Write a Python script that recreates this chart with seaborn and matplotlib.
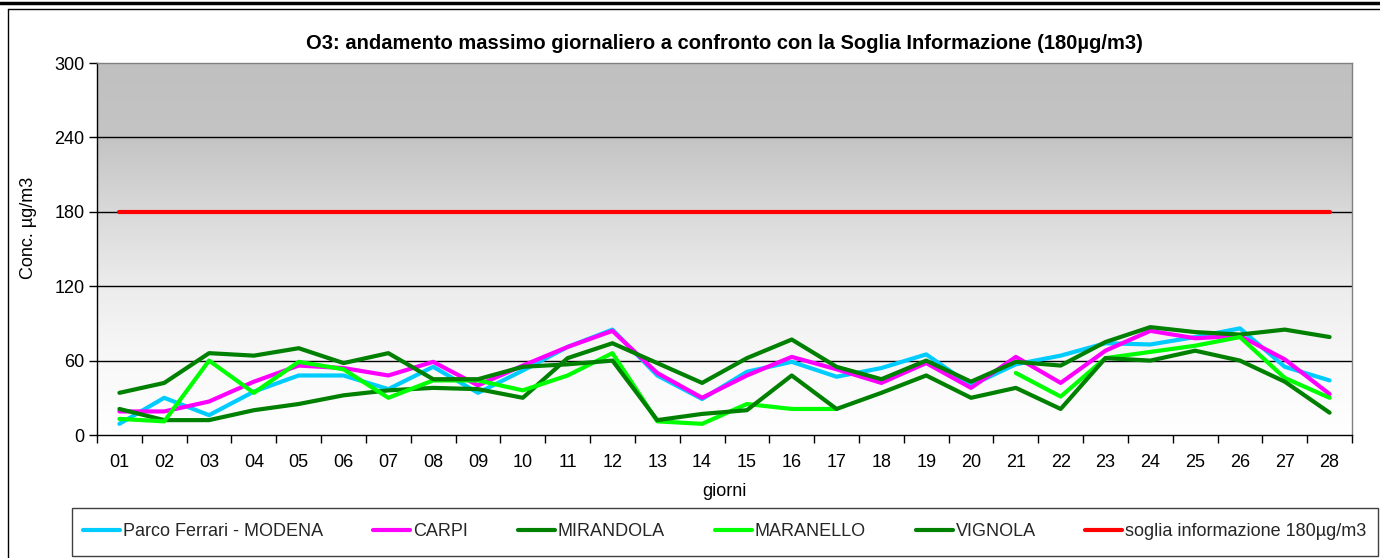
import numpy as np
import pandas as pd
import matplotlib
matplotlib.use("Agg")
import matplotlib.pyplot as plt
from matplotlib.lines import Line2D
from matplotlib.patches import Rectangle
from matplotlib.colors import LinearSegmentedColormap
import seaborn as sns

# --- Dati: massimo giornaliero O3 (µg/m3) ---
giorni = [f"{d:02d}" for d in range(1, 29)]
modena = [9, 30, 16, 35, 48, 48, 37, 55, 34, 52, 71, 85, 48, 29,
          51, 59, 47, 54, 65, 40, 57, 64, 74, 73, 79, 86, 55, 44]
carpi = [19, 19, 27, 43, 56, 54, 48, 59, 40, 56, 71, 84, 50, 30,
         48, 63, 53, 42, 58, 38, 63, 42, 68, 84, 78, 80, 61, 33]
mirandola = [21, 12, 12, 20, 25, 32, 36, 38, 37, 30, 62, 74, 58, 42,
             62, 77, 55, 45, 60, 43, 59, 56, 75, 87, 83, 81, 85, 79]
maranello = [13, 11, 60, 34, 59, 53, 30, 44, 44, 36, 48, 66, 11, 9,
             25, 21, 21, np.nan, np.nan, np.nan, 50, 31, 62, 67, 72, 79, 46, 30]
vignola = [34, 42, 66, 64, 70, 58, 66, 45, 45, 55, 57, 60, 12, 17,
           20, 48, 21, 34, 48, 30, 38, 21, 62, 60, 68, 60, 43, 18]
soglia = [180] * 28

stazioni = ["Parco Ferrari - MODENA", "CARPI", "MIRANDOLA", "MARANELLO",
            "VIGNOLA", "soglia informazione 180µg/m3"]
serie = [modena, carpi, mirandola, maranello, vignola, soglia]
colori = ["#00ccff", "#ff00ff", "#008000", "#00ff00", "#008000", "#ff0000"]

sns.set_theme(style="white")
plt.rcParams["font.family"] = ["Liberation Sans", "DejaVu Sans"]

# tabella lunga, con tratti separati dove mancano i dati
righe = []
for nome, valori in zip(stazioni, serie):
    tratto = 0
    for i, v in enumerate(valori):
        if np.isnan(v):
            tratto += 1
            continue
        righe.append({"giorno": i + 1, "stazione": nome, "valore": v, "tratto": tratto})
df = pd.DataFrame(righe)

fig = plt.figure(figsize=(13.8, 5.58), dpi=100)
ax = fig.add_axes([97 / 1380, 1 - 435 / 558, 1255 / 1380, 372 / 558])

# sfondo sfumato grigio -> bianco
sfondo = LinearSegmentedColormap.from_list(
    "sfondo", [(0, "#ffffff"), (0.2, "#f8f8f8"), (0.4, "#ececec"),
               (0.6, "#d9d9d9"), (0.8, "#c4c4c4"), (1, "#c0c0c0")])
ax.imshow(np.linspace(0, 1, 256).reshape(-1, 1), cmap=sfondo, origin="lower",
          extent=[0.5, 28.5, 0, 300], aspect="auto", zorder=0)

for y in [60, 120, 180, 240]:
    ax.axhline(y, color="black", lw=1, zorder=1)

sns.lineplot(data=df, x="giorno", y="valore", hue="stazione", hue_order=stazioni,
             palette=dict(zip(stazioni, colori)), units="tratto", estimator=None,
             linewidth=3.0, legend=False, ax=ax, zorder=3,
             solid_joinstyle="round", solid_capstyle="round")

ax.set_xlim(0.5, 28.5)
ax.set_ylim(0, 300)

# assi e tacche
ax.set_xticks(np.arange(0.5, 29, 1))
ax.set_xticklabels([])
ax.set_xticks(range(1, 29), minor=True)
ax.set_xticklabels(giorni, minor=True)
ax.tick_params(axis="x", which="major", bottom=True, length=6, width=1,
               direction="out", color="black")
ax.tick_params(axis="x", which="minor", bottom=True, length=0, pad=14,
               labelsize=13, labelcolor="black")
ax.set_yticks([0, 60, 120, 180, 240, 300])
ax.tick_params(axis="y", left=True, length=6, width=1, direction="out",
               color="black", pad=3, labelsize=13, labelcolor="black")

for lato in ["left", "bottom"]:
    ax.spines[lato].set_color("black")
    ax.spines[lato].set_linewidth(1)
for lato in ["top", "right"]:
    ax.spines[lato].set_color("#808080")
    ax.spines[lato].set_linewidth(1)

ax.set_xlabel("giorni", fontsize=13, color="black")
ax.xaxis.set_label_coords(0.5, -0.13)
ax.set_ylabel("Conc. µg/m3", fontsize=13, color="black")
ax.yaxis.set_label_coords(-0.048, 0.556)
ax.set_title("O3: andamento massimo giornaliero a confronto con la Soglia Informazione (180µg/m3)",
             fontsize=14.5, fontweight="bold", color="black", pad=10)

# legenda in basso, dentro un riquadro
maniglie = [Line2D([0], [0], color=c, lw=3.0, solid_capstyle="round") for c in colori]
box = (72 / 1380, 2 / 558, 1306 / 1380, 48 / 558)
fig.patches.append(Rectangle(box[:2], box[2], box[3], transform=fig.transFigure,
                             fill=False, edgecolor="#404040", lw=1))
fig.legend(maniglie, stazioni, loc="center", ncol=6, frameon=False,
           bbox_to_anchor=(box[0] + box[2] / 2, box[1] + box[3] / 2),
           fontsize=13, handlelength=2.05, handletextpad=0.17, columnspacing=2.75)

# cornice del grafico e linea di pagina
fig.add_artist(Line2D([8 / 1380, 8 / 1380], [0, 1 - 9 / 558], color="black", lw=1,
                      transform=fig.transFigure))
fig.add_artist(Line2D([8 / 1380, 1], [1 - 9 / 558, 1 - 9 / 558], color="black", lw=1,
                      transform=fig.transFigure))
fig.add_artist(Line2D([0, 1], [1 - 3 / 558, 1 - 3 / 558], color="black", lw=2.5,
                      transform=fig.transFigure))

fig.savefig("out.png", dpi=100, facecolor="white")
